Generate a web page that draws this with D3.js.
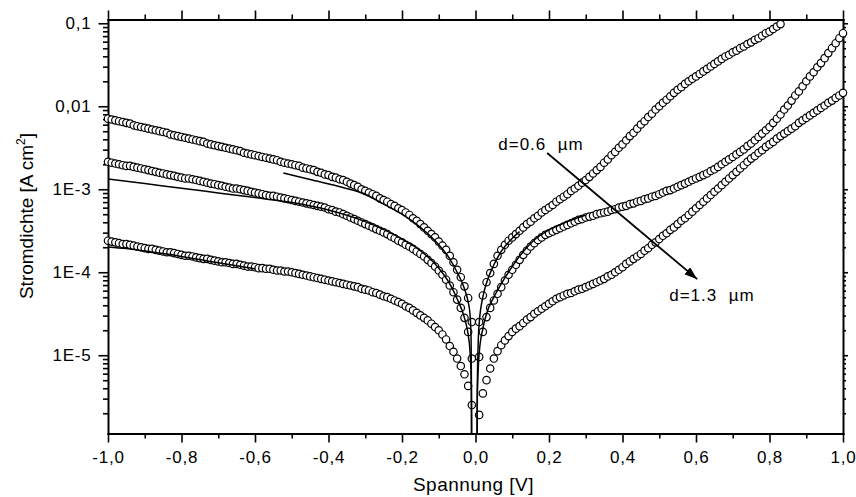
<!DOCTYPE html>
<html><head><meta charset="utf-8">
<script src="https://cdn.jsdelivr.net/npm/d3@7"></script>
<style>
html,body{margin:0;padding:0;background:#fff;}
svg{display:block;}
</style></head><body>
<svg id="chart" width="856" height="497"></svg>
<script>
// ---------------- DATA ----------------
const xDomain = [-1, 1];
const yDomain = [1.14e-6, 0.111];
const xMajorTicks = [-1, -0.8, -0.6, -0.4, -0.2, 0, 0.2, 0.4, 0.6, 0.8, 1];
const xTickLabels = ["-1,0", "-0,8", "-0,6", "-0,4", "-0,2", "0,0", "0,2", "0,4", "0,6", "0,8", "1,0"];
const xMinorTicks = [-0.9, -0.7, -0.5, -0.3, -0.1, 0.1, 0.3, 0.5, 0.7, 0.9];
const yMajorTicks = [1e-5, 1e-4, 1e-3, 1e-2, 1e-1];
const yTickLabels = ["1E-5", "1E-4", "1E-3", "0,01", "0,1"];

// Spannung [V]
const voltage = [
-1.00,-0.99,-0.98,-0.97,-0.96,-0.95,-0.94,-0.93,-0.92,-0.91,
-0.90,-0.89,-0.88,-0.87,-0.86,-0.85,-0.84,-0.83,-0.82,-0.81,
-0.80,-0.79,-0.78,-0.77,-0.76,-0.75,-0.74,-0.73,-0.72,-0.71,
-0.70,-0.69,-0.68,-0.67,-0.66,-0.65,-0.64,-0.63,-0.62,-0.61,
-0.60,-0.59,-0.58,-0.57,-0.56,-0.55,-0.54,-0.53,-0.52,-0.51,
-0.50,-0.49,-0.48,-0.47,-0.46,-0.45,-0.44,-0.43,-0.42,-0.41,
-0.40,-0.39,-0.38,-0.37,-0.36,-0.35,-0.34,-0.33,-0.32,-0.31,
-0.30,-0.29,-0.28,-0.27,-0.26,-0.25,-0.24,-0.23,-0.22,-0.21,
-0.20,-0.19,-0.18,-0.17,-0.16,-0.15,-0.14,-0.13,-0.12,-0.11,
-0.10,-0.09,-0.08,-0.07,-0.06,-0.05,-0.04,-0.03,-0.02,-0.01,
0.00,
0.01,0.02,0.03,0.04,0.05,0.06,0.07,0.08,0.09,0.10,
0.11,0.12,0.13,0.14,0.15,0.16,0.17,0.18,0.19,0.20,
0.21,0.22,0.23,0.24,0.25,0.26,0.27,0.28,0.29,0.30,
0.31,0.32,0.33,0.34,0.35,0.36,0.37,0.38,0.39,0.40,
0.41,0.42,0.43,0.44,0.45,0.46,0.47,0.48,0.49,0.50,
0.51,0.52,0.53,0.54,0.55,0.56,0.57,0.58,0.59,0.60,
0.61,0.62,0.63,0.64,0.65,0.66,0.67,0.68,0.69,0.70,
0.71,0.72,0.73,0.74,0.75,0.76,0.77,0.78,0.79,0.80,
0.81,0.82,0.83,0.84,0.85,0.86,0.87,0.88,0.89,0.90,
0.91,0.92,0.93,0.94,0.95,0.96,0.97,0.98,0.99,1.00
];

// Stromdichte [A cm^-2], d = 0.6 um (top curve), measured up to 0.83 V
const currentD06 = [
7.08e-3,6.92e-3,6.76e-3,6.61e-3,6.46e-3,6.31e-3,6.17e-3,5.89e-3,5.75e-3,5.62e-3,
5.50e-3,5.37e-3,5.25e-3,5.13e-3,5.01e-3,4.90e-3,4.79e-3,4.57e-3,4.47e-3,4.37e-3,
4.27e-3,4.17e-3,4.07e-3,3.98e-3,3.89e-3,3.80e-3,3.72e-3,3.55e-3,3.47e-3,3.39e-3,
3.31e-3,3.24e-3,3.16e-3,3.09e-3,3.02e-3,2.95e-3,2.88e-3,2.75e-3,2.69e-3,2.63e-3,
2.57e-3,2.51e-3,2.45e-3,2.40e-3,2.34e-3,2.29e-3,2.24e-3,2.14e-3,2.09e-3,2.04e-3,
2.00e-3,1.95e-3,1.91e-3,1.82e-3,1.78e-3,1.74e-3,1.70e-3,1.62e-3,1.58e-3,1.51e-3,
1.48e-3,1.41e-3,1.38e-3,1.32e-3,1.29e-3,1.23e-3,1.17e-3,1.12e-3,1.07e-3,1.00e-3,
9.55e-4,9.12e-4,8.71e-4,8.32e-4,7.76e-4,7.41e-4,7.08e-4,6.61e-4,6.31e-4,5.89e-4,
5.62e-4,5.25e-4,4.90e-4,4.47e-4,4.17e-4,3.80e-4,3.47e-4,3.16e-4,2.88e-4,2.63e-4,
2.34e-4,2.09e-4,1.86e-4,1.58e-4,1.32e-4,1.07e-4,8.71e-5,6.76e-5,4.90e-5,2.51e-5,
null,
2.51e-5,5.25e-5,7.59e-5,9.77e-5,1.26e-4,1.58e-4,1.86e-4,2.14e-4,2.40e-4,2.63e-4,
2.88e-4,3.16e-4,3.47e-4,3.80e-4,4.07e-4,4.47e-4,4.79e-4,5.25e-4,5.62e-4,6.03e-4,
6.46e-4,7.08e-4,7.59e-4,8.13e-4,8.71e-4,9.55e-4,1.02e-3,1.10e-3,1.20e-3,1.29e-3,
1.41e-3,1.55e-3,1.70e-3,1.86e-3,2.09e-3,2.29e-3,2.57e-3,2.82e-3,3.16e-3,3.47e-3,
3.89e-3,4.37e-3,4.79e-3,5.37e-3,6.03e-3,6.61e-3,7.41e-3,8.13e-3,9.12e-3,1.00e-2,
1.10e-2,1.20e-2,1.32e-2,1.45e-2,1.58e-2,1.70e-2,1.86e-2,2.00e-2,2.14e-2,2.29e-2,
2.45e-2,2.63e-2,2.82e-2,3.02e-2,3.24e-2,3.47e-2,3.72e-2,3.98e-2,4.17e-2,4.47e-2,
4.68e-2,5.01e-2,5.25e-2,5.62e-2,5.89e-2,6.31e-2,6.61e-2,7.08e-2,7.59e-2,7.94e-2,
8.51e-2,9.12e-2,9.77e-2
];

// middle curve
const currentDMid = [
2.14e-3,2.09e-3,2.04e-3,2.00e-3,1.95e-3,1.91e-3,1.91e-3,1.86e-3,1.82e-3,1.78e-3,
1.74e-3,1.70e-3,1.66e-3,1.62e-3,1.58e-3,1.55e-3,1.51e-3,1.48e-3,1.45e-3,1.41e-3,
1.38e-3,1.35e-3,1.35e-3,1.32e-3,1.29e-3,1.26e-3,1.23e-3,1.20e-3,1.17e-3,1.15e-3,
1.12e-3,1.10e-3,1.07e-3,1.05e-3,1.02e-3,1.02e-3,1.00e-3,9.77e-4,9.55e-4,9.33e-4,
9.12e-4,8.91e-4,8.71e-4,8.51e-4,8.32e-4,8.32e-4,8.13e-4,7.94e-4,7.76e-4,7.59e-4,
7.41e-4,7.24e-4,7.08e-4,6.92e-4,6.76e-4,6.61e-4,6.46e-4,6.31e-4,6.17e-4,6.03e-4,
5.75e-4,5.62e-4,5.37e-4,5.25e-4,5.01e-4,4.79e-4,4.57e-4,4.37e-4,4.17e-4,3.98e-4,
3.80e-4,3.63e-4,3.47e-4,3.31e-4,3.16e-4,3.02e-4,2.88e-4,2.69e-4,2.57e-4,2.40e-4,
2.29e-4,2.14e-4,2.04e-4,1.91e-4,1.78e-4,1.66e-4,1.55e-4,1.41e-4,1.29e-4,1.17e-4,
1.05e-4,9.33e-5,8.13e-5,6.92e-5,5.75e-5,4.68e-5,3.72e-5,2.82e-5,1.91e-5,9.12e-6,
null,
9.55e-6,1.91e-5,2.88e-5,3.72e-5,4.57e-5,5.50e-5,6.61e-5,7.94e-5,9.33e-5,1.07e-4,
1.23e-4,1.41e-4,1.62e-4,1.82e-4,2.04e-4,2.24e-4,2.45e-4,2.63e-4,2.82e-4,2.95e-4,
3.09e-4,3.24e-4,3.39e-4,3.55e-4,3.72e-4,3.89e-4,4.07e-4,4.27e-4,4.37e-4,4.57e-4,
4.68e-4,4.79e-4,5.01e-4,5.13e-4,5.25e-4,5.37e-4,5.62e-4,5.75e-4,6.03e-4,6.17e-4,
6.31e-4,6.61e-4,6.76e-4,7.08e-4,7.24e-4,7.59e-4,7.76e-4,8.13e-4,8.32e-4,8.71e-4,
9.12e-4,9.55e-4,9.77e-4,1.02e-3,1.07e-3,1.12e-3,1.17e-3,1.23e-3,1.29e-3,1.35e-3,
1.41e-3,1.48e-3,1.55e-3,1.66e-3,1.74e-3,1.86e-3,2.00e-3,2.14e-3,2.29e-3,2.45e-3,
2.63e-3,2.82e-3,3.02e-3,3.31e-3,3.55e-3,3.89e-3,4.27e-3,4.68e-3,5.13e-3,5.62e-3,
6.31e-3,7.08e-3,7.94e-3,9.12e-3,1.02e-2,1.17e-2,1.35e-2,1.51e-2,1.74e-2,2.00e-2,
2.29e-2,2.57e-2,2.95e-2,3.31e-2,3.80e-2,4.37e-2,5.01e-2,5.75e-2,6.61e-2,7.59e-2
];

// d = 1.3 um (bottom curve)
const currentD13 = [
2.40e-4,2.34e-4,2.29e-4,2.24e-4,2.19e-4,2.19e-4,2.14e-4,2.09e-4,2.04e-4,2.00e-4,
1.95e-4,1.91e-4,1.91e-4,1.86e-4,1.82e-4,1.78e-4,1.74e-4,1.74e-4,1.70e-4,1.66e-4,
1.62e-4,1.58e-4,1.58e-4,1.55e-4,1.51e-4,1.48e-4,1.45e-4,1.45e-4,1.41e-4,1.38e-4,
1.35e-4,1.32e-4,1.32e-4,1.29e-4,1.26e-4,1.26e-4,1.23e-4,1.20e-4,1.17e-4,1.17e-4,
1.15e-4,1.12e-4,1.12e-4,1.10e-4,1.10e-4,1.07e-4,1.05e-4,1.05e-4,1.02e-4,1.02e-4,
1.00e-4,9.77e-5,9.55e-5,9.33e-5,9.12e-5,8.91e-5,8.71e-5,8.51e-5,8.32e-5,8.13e-5,
7.94e-5,7.76e-5,7.59e-5,7.41e-5,7.24e-5,7.08e-5,6.92e-5,6.76e-5,6.61e-5,6.31e-5,
6.17e-5,6.03e-5,5.75e-5,5.62e-5,5.37e-5,5.13e-5,5.01e-5,4.79e-5,4.57e-5,4.37e-5,
4.17e-5,3.89e-5,3.72e-5,3.47e-5,3.24e-5,3.02e-5,2.82e-5,2.63e-5,2.40e-5,2.19e-5,
2.00e-5,1.78e-5,1.55e-5,1.29e-5,1.10e-5,9.12e-6,7.41e-6,5.89e-6,4.27e-6,2.51e-6,
null,
1.91e-6,3.47e-6,5.01e-6,6.92e-6,9.12e-6,1.12e-5,1.32e-5,1.51e-5,1.70e-5,1.91e-5,
2.09e-5,2.24e-5,2.45e-5,2.69e-5,2.88e-5,3.16e-5,3.39e-5,3.63e-5,3.89e-5,4.17e-5,
4.47e-5,4.79e-5,5.01e-5,5.25e-5,5.50e-5,5.62e-5,5.89e-5,6.17e-5,6.31e-5,6.61e-5,
6.92e-5,7.24e-5,7.59e-5,7.94e-5,8.32e-5,8.91e-5,9.33e-5,1.00e-4,1.07e-4,1.15e-4,
1.26e-4,1.35e-4,1.45e-4,1.55e-4,1.66e-4,1.82e-4,1.95e-4,2.14e-4,2.29e-4,2.51e-4,
2.75e-4,2.95e-4,3.24e-4,3.47e-4,3.80e-4,4.17e-4,4.47e-4,4.90e-4,5.37e-4,5.89e-4,
6.46e-4,7.08e-4,7.76e-4,8.51e-4,9.33e-4,1.02e-3,1.12e-3,1.23e-3,1.35e-3,1.48e-3,
1.62e-3,1.78e-3,1.95e-3,2.14e-3,2.34e-3,2.51e-3,2.75e-3,2.95e-3,3.24e-3,3.47e-3,
3.72e-3,4.07e-3,4.37e-3,4.68e-3,5.01e-3,5.37e-3,5.75e-3,6.31e-3,6.76e-3,7.24e-3,
7.76e-3,8.32e-3,8.91e-3,9.55e-3,1.02e-2,1.10e-2,1.17e-2,1.26e-2,1.35e-2,1.45e-2
];

// fit curves (solid lines)
const fitD06LeftV  = [-0.523,-0.45,-0.354,-0.30,-0.25,-0.20,-0.15,-0.10,-0.07,-0.05,-0.03,-0.02,-0.015,-0.012,-0.011,-0.0105];
const fitD06LeftJ  = [1.57e-3,1.31e-3,1.03e-3,8.71e-4,6.61e-4,5.01e-4,3.47e-4,2.14e-4,1.45e-4,1.00e-4,6.31e-5,4.37e-5,3.16e-5,1.58e-5,3.98e-6,6.31e-7];
const fitD06RightV = [0.004,0.005,0.007,0.01,0.02,0.03,0.05,0.07,0.10,0.12];
const fitD06RightJ = [6.31e-7,3.98e-6,1.26e-5,2.40e-5,5.01e-5,7.41e-5,1.23e-4,1.78e-4,2.57e-4,3.09e-4];
const fitMidLeftV  = [-1.0,-0.9,-0.8,-0.7,-0.6,-0.567,-0.5,-0.4,-0.3,-0.2,-0.15,-0.10,-0.07,-0.05,-0.03,-0.02,-0.015,-0.012,-0.011,-0.0105];
const fitMidLeftJ  = [1.33e-3,1.17e-3,1.03e-3,9.04e-4,7.94e-4,7.60e-4,6.92e-4,5.62e-4,4.07e-4,2.51e-4,1.82e-4,1.12e-4,7.24e-5,4.79e-5,2.82e-5,1.78e-5,1.12e-5,5.62e-6,2.51e-6,6.31e-7];
const fitMidRightV = [0.004,0.005,0.007,0.01,0.02,0.03,0.05,0.07,0.10,0.13,0.16,0.20,0.25,0.30];
const fitMidRightJ = [6.31e-7,3.16e-6,6.31e-6,1.05e-5,2.09e-5,3.16e-5,5.01e-5,7.24e-5,1.17e-4,1.78e-4,2.45e-4,3.24e-4,4.07e-4,4.90e-4];
const fitD13LeftV  = [-1.0,-0.95,-0.9,-0.85,-0.8,-0.7,-0.6];
const fitD13LeftJ  = [2.02e-4,1.93e-4,1.80e-4,1.68e-4,1.55e-4,1.30e-4,1.10e-4];

// annotations
const annoLabels = ["d=0.6\u00A0\u00A0\u00B5m", "d=1.3\u00A0\u00A0\u00B5m"];
const annoV = [0.062, 0.527];
const annoJ = [2.96e-3, 4.48e-5];
const arrowV = [0.195, 0.6033];
const arrowJ = [2.73e-3, 8.26e-5];

// ---------------- DRAW ----------------
const FONT = '"Liberation Sans", Arial, Helvetica, sans-serif';
const svg = d3.select("#chart");
const L = 108, R = 843, T = 19.5, B = 433.5;
const x = d3.scaleLinear().domain(xDomain).range([L, R]);
const y = d3.scaleLog().domain(yDomain).range([B, T]);

svg.append("rect").attr("width", 856).attr("height", 497).attr("fill", "#fff");

function styleAxis(g, keepDomain) {
  g.attr("font-family", null).attr("font-size", null);
  if (keepDomain) {
    g.select(".domain").attr("stroke", "#000").attr("stroke-width", 2).attr("stroke-linecap", "square");
  } else {
    g.select(".domain").remove();
  }
  g.selectAll(".tick line").attr("stroke", "#000").attr("stroke-width", 1.6);
  g.selectAll(".tick text").attr("fill", "#000")
    .style("font-family", FONT).style("font-size", "17px").style("letter-spacing", "0.8px");
}
const isMajor = t => yMajorTicks.some(m => Math.abs(t / m - 1) < 1e-6);
const yMinorTicks = y.ticks().filter(t => !isMajor(t));

// bottom
svg.append("g").attr("transform", `translate(0,${B})`)
  .call(d3.axisBottom(x).tickValues(xMinorTicks).tickFormat("").tickSize(5).tickSizeOuter(0))
  .call(g => styleAxis(g, false));
svg.append("g").attr("transform", `translate(0,${B})`)
  .call(d3.axisBottom(x).tickValues(xMajorTicks).tickFormat((d, i) => xTickLabels[i]).tickSize(9).tickPadding(8).tickSizeOuter(0))
  .call(g => styleAxis(g, true));
// top
svg.append("g").attr("transform", `translate(0,${T})`)
  .call(d3.axisTop(x).tickValues(xMinorTicks).tickFormat("").tickSize(5).tickSizeOuter(0))
  .call(g => styleAxis(g, false));
svg.append("g").attr("transform", `translate(0,${T})`)
  .call(d3.axisTop(x).tickValues(xMajorTicks).tickFormat("").tickSize(9).tickSizeOuter(0))
  .call(g => styleAxis(g, true));
// left
svg.append("g").attr("transform", `translate(${L},0)`)
  .call(d3.axisLeft(y).tickValues(yMinorTicks).tickFormat("").tickSize(5).tickSizeOuter(0))
  .call(g => styleAxis(g, false));
svg.append("g").attr("transform", `translate(${L},0)`)
  .call(d3.axisLeft(y).tickValues(yMajorTicks).tickFormat((d, i) => yTickLabels[i]).tickSize(9.5).tickPadding(7).tickSizeOuter(0))
  .call(g => styleAxis(g, true));
// right
svg.append("g").attr("transform", `translate(${R},0)`)
  .call(d3.axisRight(y).tickValues(yMinorTicks).tickFormat("").tickSize(3).tickSizeOuter(0))
  .call(g => styleAxis(g, false));
svg.append("g").attr("transform", `translate(${R},0)`)
  .call(d3.axisRight(y).tickValues(yMajorTicks).tickFormat("").tickSize(5).tickSizeOuter(0))
  .call(g => styleAxis(g, true));

// axis titles
svg.append("text")
  .attr("x", (L + R) / 2 - 2).attr("y", 491)
  .attr("text-anchor", "middle")
  .style("font-family", FONT).style("font-size", "19px").style("letter-spacing", "0.5px")
  .text("Spannung [V]");
const yt = svg.append("text")
  .attr("transform", "translate(33,216) rotate(-90)")
  .attr("text-anchor", "middle")
  .style("font-family", FONT).style("font-size", "19px");
yt.append("tspan").text("Stromdichte [A cm");
yt.append("tspan").attr("dy", -8).style("font-size", "12px").text("2");
yt.append("tspan").attr("dy", 8).text("]");

// data markers
const series = [currentD06, currentDMid, currentD13];
const gData = svg.append("g");
series.forEach(vals => {
  const pts = vals.map((j, i) => ({ v: voltage[i], j })).filter(d => d.j != null);
  gData.append("g").selectAll("circle").data(pts).join("circle")
    .attr("cx", d => x(d.v)).attr("cy", d => y(d.j)).attr("r", 3.7)
    .attr("fill", "#fff").attr("stroke", "#000").attr("stroke-width", 1.2);
});

// fit lines
svg.append("defs").append("clipPath").attr("id", "plotclip")
  .append("rect").attr("x", L).attr("y", T).attr("width", R - L).attr("height", B - T);
const line = d3.line().x(d => x(d.v)).y(d => y(d.j)).curve(d3.curveMonotoneX);
const fits = [
  [fitD06LeftV, fitD06LeftJ], [fitD06RightV, fitD06RightJ],
  [fitMidLeftV, fitMidLeftJ], [fitMidRightV, fitMidRightJ],
  [fitD13LeftV, fitD13LeftJ]
];
const gFit = svg.append("g").attr("clip-path", "url(#plotclip)");
fits.forEach(([vs, js]) => {
  gFit.append("path").datum(vs.map((v, i) => ({ v, j: js[i] })))
    .attr("d", line).attr("fill", "none").attr("stroke", "#000").attr("stroke-width", 1.5);
});

// arrow + labels
svg.select("defs").append("marker")
  .attr("id", "arrowhead").attr("markerUnits", "userSpaceOnUse")
  .attr("markerWidth", 14).attr("markerHeight", 10)
  .attr("refX", 13).attr("refY", 4.5).attr("orient", "auto")
  .append("path").attr("d", "M0,0 L13,4.5 L0,9 Z").attr("fill", "#000");
svg.append("line")
  .attr("x1", x(arrowV[0])).attr("y1", y(arrowJ[0]))
  .attr("x2", x(arrowV[1])).attr("y2", y(arrowJ[1]))
  .attr("stroke", "#000").attr("stroke-width", 1.8)
  .attr("marker-end", "url(#arrowhead)");
annoLabels.forEach((t, i) => {
  svg.append("text")
    .attr("x", x(annoV[i])).attr("y", y(annoJ[i]))
    .style("font-family", FONT).style("font-size", "17px").style("letter-spacing", "1px")
    .text(t);
});
</script>
</body></html>
